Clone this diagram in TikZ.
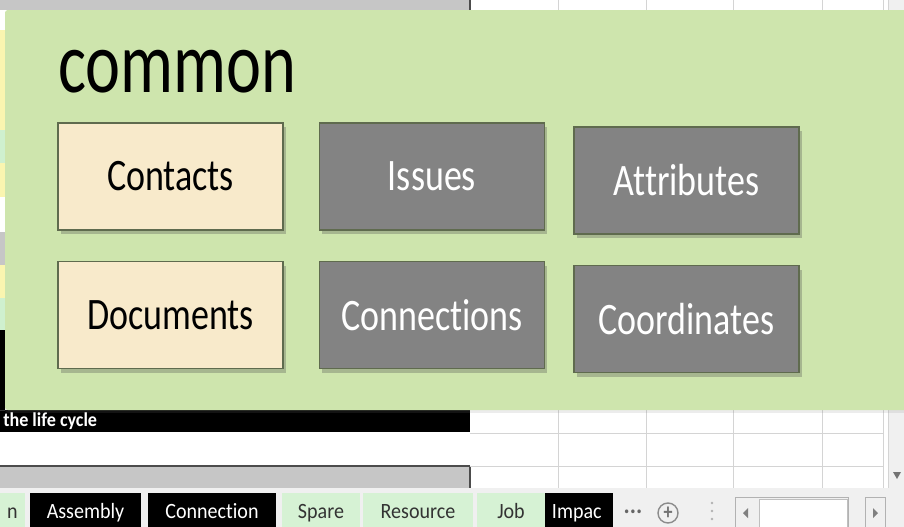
\documentclass[tikz,border=0pt]{standalone}
\usepackage{fontspec}
\setmainfont[FakeStretch=0.8, Ligatures=NoCommon]{Carlito}
\newfontfamily\titlefont[FakeStretch=0.76, Ligatures=NoCommon]{Carlito}
\newfontfamily\tabfont[FakeStretch=0.92, Ligatures=NoCommon]{Carlito}
\usetikzlibrary{positioning,shadows}

\definecolor{panelgreen}{HTML}{CEE5AD}
\definecolor{creamfill}{HTML}{F8EACB}
\definecolor{boxgray}{HTML}{838383}
\definecolor{boxedge}{HTML}{5F6B4E}
\definecolor{tabgreen}{HTML}{D6F2D4}
\definecolor{gridline}{HTML}{D4D4D4}
\definecolor{sheetgray}{HTML}{C6C6C6}
\definecolor{barbg}{HTML}{F0F0F0}
\definecolor{cellyellow}{HTML}{FAF5B0}
\definecolor{cellgreen}{HTML}{CFF0CF}

\begin{document}
\begin{tikzpicture}[
    x=0.025cm, y=-0.025cm,
    card/.style={
        rectangle,
        draw=boxedge,
        line width=1pt,
        minimum width=5.625cm,
        minimum height=2.675cm,
        inner sep=0pt,
        font=\fontsize{32}{38}\selectfont,
        drop shadow={shadow xshift=2pt, shadow yshift=-3pt, opacity=0.3, fill=black!70}
    },
    lightcard/.style={card, fill=creamfill, text=black},
    darkcard/.style={card, fill=boxgray, text=white},
    tab/.style={
        rectangle,
        inner sep=0pt,
        minimum height=0.9cm,
        text height=14pt,
        text depth=3pt,
        font=\tabfont\fontsize{15.5}{18}\selectfont
    },
    blacktab/.style={tab, fill=black, text=white},
    greentab/.style={tab, fill=tabgreen, text=black!80}
]

\useasboundingbox (0,0) rectangle (904,527);
\fill[white] (0,0) rectangle (904,527);

% spreadsheet behind the panel
\fill[sheetgray] (0,0) rectangle (470,10);
\fill[sheetgray] (0,466) rectangle (470,488);
\fill[black] (0,410) rectangle (470,432);
\draw[black!70, line width=1pt] (470,0) -- (470,10);
\draw[black!70, line width=1pt] (0,466) -- (470,466) (470,466) -- (470,488);
\foreach \xx in {558,646,733,822,883} {
    \draw[gridline] (\xx,0) -- (\xx,10);
    \draw[gridline] (\xx,410) -- (\xx,488);
}
\foreach \yy in {433,466,488}
    \draw[gridline] (470,\yy) -- (883,\yy);
\fill[barbg] (888,0) rectangle (904,488);
\draw[gridline] (888,0) -- (888,488);
\fill[black!55] (893,472) -- (901,472) -- (897,479) -- cycle;

% left column of coloured cells
\foreach \ya/\yb/\cc in {10/30/white, 30/63/cellyellow, 63/97/cellyellow,
    97/130/cellyellow, 130/163/cellgreen, 163/197/cellyellow, 197/232/white,
    232/265/sheetgray, 265/298/cellyellow, 298/330/cellgreen, 330/410/black} {
    \fill[\cc] (0,\ya) rectangle (5,\yb);
    \draw[black!80] (0,\yb) -- (5,\yb);
}

\node[anchor=base west, inner sep=0pt, text=white,
      font=\tabfont\bfseries\fontsize{14}{16}\selectfont] (lifecycle) at (3,426) {the life cycle};

% sheet tabs
\fill[barbg] (0,488) rectangle (904,527);
\node[greentab, minimum width=0.625cm] (tabn) at (12.5,511) {n};
\node[blacktab, minimum width=2.775cm] (tabassembly) at (85.5,511) {Assembly};
\node[blacktab, minimum width=3.2cm] (tabconnection) at (212,511) {Connection};
\node[greentab, minimum width=1.95cm] (tabspare) at (321,511) {Spare};
\node[greentab, minimum width=2.75cm] (tabresource) at (418,511) {Resource};
\node[greentab, minimum width=1.7cm] (tabjob) at (511,511) {Job};
\node[blacktab, minimum width=1.675cm, text width=1.35cm, align=left] (tabimpact) at (579,511) {Impac};
\node[font=\tabfont\bfseries\fontsize{18}{18}\selectfont, text=black!60] (tabmore) at (633,512) {...};
\node[circle, draw=black!45, line width=1pt, minimum size=0.5cm, inner sep=0pt,
      text=black!55, font=\bfseries\fontsize{16}{16}\selectfont] (tabadd) at (668,513) {+};
\foreach \yy in {503,511,519}
    \fill[black!30] (712,\yy) circle (1.3);
\node[rectangle, draw=black!30, fill=barbg, minimum width=2.825cm, minimum height=0.8cm,
      inner sep=0pt] (hscroll) at (791.5,513) {};
\node[rectangle, draw=black!25, fill=white, minimum width=2.2cm, minimum height=0.7cm,
      inner sep=0pt] (hthumb) at (803,513) {};
\fill[black!50] (748,508) -- (748,518) -- (743,513) -- cycle;
\node[rectangle, draw=black!30, fill=barbg, minimum width=0.5cm, minimum height=0.8cm,
      inner sep=0pt] (hright) at (875,513) {};
\fill[black!50] (873,508) -- (873,518) -- (878,513) -- cycle;

% green panel
\fill[panelgreen, rounded corners=2pt,
      drop shadow={shadow xshift=0pt, shadow yshift=-2pt, opacity=0.15}]
    (5,10) rectangle (910,410);

\node[anchor=base west, inner sep=0pt, font=\titlefont\fontsize{62}{70}\selectfont]
    (title) at (58,92) {common};

\node[lightcard] (contacts) at (170.5,176.5) {Contacts};
\node[lightcard, below=0.75cm of contacts] (documents) {Documents};
\node[darkcard, right=0.875cm of contacts] (issues) {Issues};
\node[darkcard, below=0.75cm of issues] (connections) {Connections};
\node[darkcard] (attributes) at (686.5,180.5) {Attributes};
\node[darkcard, below=0.75cm of attributes] (coordinates) {Coordinates};

\end{tikzpicture}
\end{document}
